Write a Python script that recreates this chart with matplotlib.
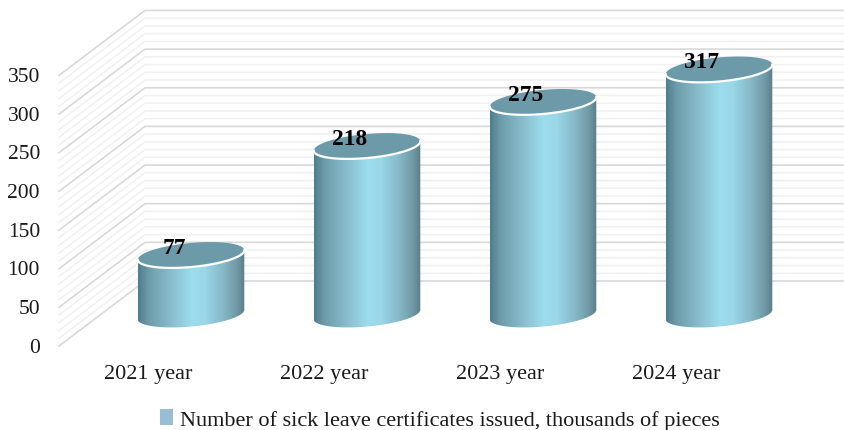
import numpy as np
import matplotlib
matplotlib.use('Agg')
import matplotlib.pyplot as plt
from matplotlib.colors import LinearSegmentedColormap
from matplotlib.patches import Patch, Polygon

categories = ['2021 year', '2022 year', '2023 year', '2024 year']
values = [77, 218, 275, 317]
major_ticks = [0, 50, 100, 150, 200, 250, 300, 350]
minor_ticks = [10, 20, 30, 40, 60, 70, 80, 90, 110, 120, 130, 140, 160, 170, 180, 190,
               210, 220, 230, 240, 260, 270, 280, 290, 310, 320, 330, 340]
legend_label = 'Number of sick leave certificates issued, thousands of pieces'

plt.rcParams['font.family'] = ['Liberation Serif', 'DejaVu Serif']

W, H = 845, 431
px_per_x = 176.0      # pixels between two cylinders
px_per_y = 0.773      # pixels for one unit of value
zero_px = 347.0       # pixel row of value 0 on the front edge
first_px = 191.0      # pixel column of the first cylinder
depth_x, depth_y = 86, 65   # how far the back wall sits from the front edge
bar_depth = 31.5 / px_per_y   # cylinders stand a bit behind the front edge
a, b, tilt = 53.5, 12.0, np.radians(5.3)

fig = plt.figure(figsize=(W / 100, H / 100), dpi=100)
ax = fig.add_axes([0, 0, 1, 1])
xlim = (-first_px / px_per_x, (W - first_px) / px_per_x)
ylim = ((zero_px - H) / px_per_y, zero_px / px_per_y)
ax.axis('off')


def to_x(px):
    return px / px_per_x + xlim[0]


# side wall and back wall lines
for ticks, col, lw in [(minor_ticks, '#f1f1f1', 1.2), (major_ticks, '#d9d9d9', 1.2)]:
    for v in ticks:
        dy = depth_y / px_per_y
        ax.plot([to_x(59), to_x(59 + depth_x), xlim[1]], [v, v + dy, v + dy],
                color=col, lw=lw, zorder=1, solid_joinstyle='miter')

for v in major_ticks:
    ax.text(to_x(40), v - 1.5, str(v), ha='right', va='center', fontsize=15.5, color='#1a1a1a')

cmap = LinearSegmentedColormap.from_list('cyl', [
    (0.0, '#507c88'), (0.1, '#6d9dab'), (0.3, '#88bccb'), (0.5, '#9cdcec'),
    (0.62, '#9ad8e8'), (0.8, '#86b8c7'), (0.93, '#6f98a5'), (1.0, '#5a7e8a')])
grad = np.linspace(0, 1, 256).reshape(1, -1)


def ellipse(i, v, t):
    # point on the tilted ellipse around cylinder i at height v
    ex = a * np.cos(t) * np.cos(tilt) - b * np.sin(t) * np.sin(tilt)
    ey = a * np.cos(t) * np.sin(tilt) + b * np.sin(t) * np.cos(tilt)
    return i + ex / px_per_x, v + bar_depth + ey / px_per_y


t_right = np.arctan2(-b * np.sin(tilt), a * np.cos(tilt))
arc = np.linspace(t_right, t_right - np.pi, 80)   # front half, right to left
full = np.linspace(0, 2 * np.pi, 160)

for i, (cat, v) in enumerate(zip(categories, values)):
    top_x, top_y = ellipse(i, v, arc)
    bot_x, bot_y = ellipse(i, 0, arc)
    verts = np.column_stack([np.r_[top_x, bot_x[::-1]], np.r_[top_y, bot_y[::-1]]])
    body = Polygon(verts, closed=True, transform=ax.transData, facecolor='none', edgecolor='none')
    ax.add_patch(body)
    im = ax.imshow(grad, cmap=cmap, aspect='auto', zorder=2, interpolation='bilinear',
                   extent=[i - a / px_per_x, i + a / px_per_x, 0, v + 60])
    im.set_clip_path(body)
    ex, ey = ellipse(i, v, full)
    ax.fill(ex, ey, color='#6d9aa8', zorder=3, lw=0)
    ax.plot(top_x, top_y, color='white', lw=1.6, zorder=4)
    ax.text(i - 17 / px_per_x, v + bar_depth + 7.5 / px_per_y, str(v), ha='center', va='center',
            fontsize=16.8, fontweight='bold', color='black', zorder=5)
    ax.text(i - 43 / px_per_x, -27.5 / px_per_y, cat, ha='center', va='center', fontsize=16,
            color='#1a1a1a')

ax.set_xlim(xlim)
ax.set_ylim(ylim)

handle = Patch(facecolor='#9abdd6', edgecolor='none')
ax.legend([handle], [legend_label], loc='center', bbox_to_anchor=(440 / W, 1 - 420.5 / H),
          frameon=False, fontsize=16, handlelength=0.6, handleheight=0.7, handletextpad=0.3,
          labelcolor='#1a1a1a')

fig.savefig('out.png', dpi=100)
